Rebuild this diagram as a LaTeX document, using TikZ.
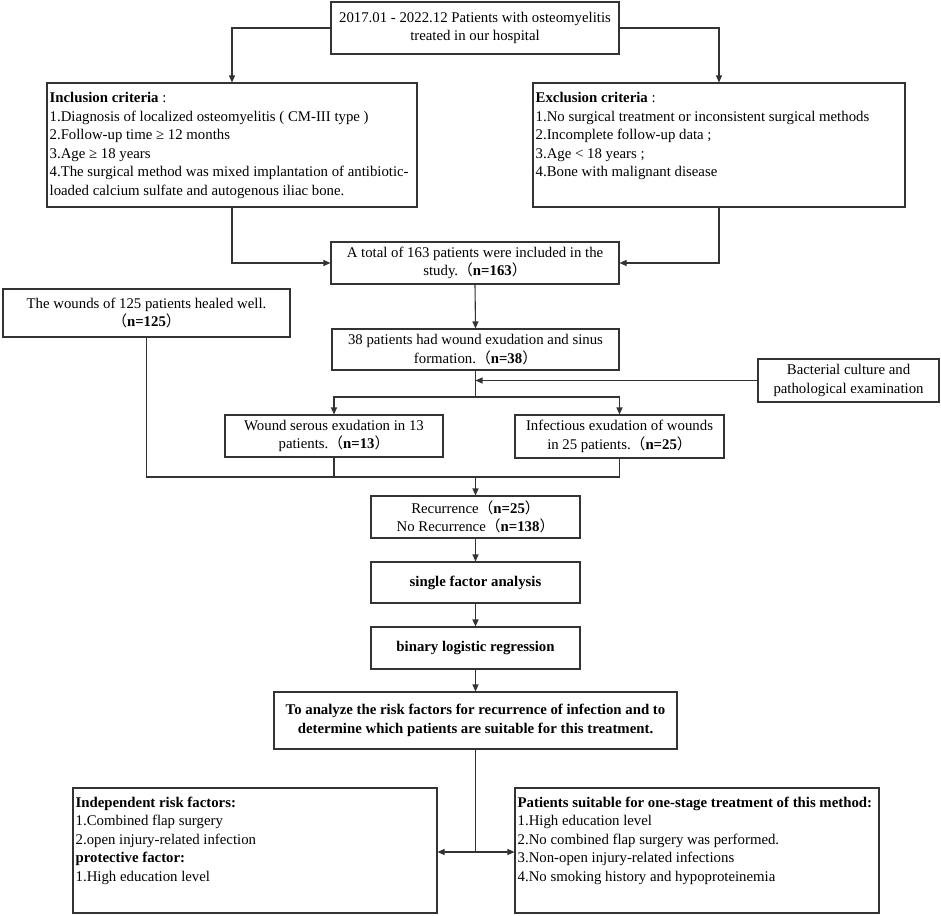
\documentclass[tikz,border=0pt]{standalone}
\usepackage{fontspec}
\setmainfont{Liberation Serif}
\newfontfamily\cjk{Noto Sans CJK SC}
\usetikzlibrary{arrows.meta,calc}
\newcommand\nn[1]{{\cjk （}\textbf{#1}{\cjk ）}}
\tikzset{
  box/.style={draw=black!80, line width=1.1pt, fill=white, inner sep=0pt, align=center, font=\fontsize{14.8}{18.5}\selectfont},
  txt/.style={inner sep=0pt, align=left, anchor=north west, font=\fontsize{14.8}{18.5}\selectfont},
  conn/.style={draw=black!80, line width=1.1pt},
  arr/.style={conn, -{Triangle[length=7pt,width=6pt]}},
  darr/.style={conn, {Triangle[length=7pt,width=6pt]}-{Triangle[length=7pt,width=6pt]}}
}
\begin{document}
\begin{tikzpicture}[x=1pt,y=-1pt]
\useasboundingbox (0,0) rectangle (941,915);
\fill[white] (0,0) rectangle (941,915);
% boxes
\node[box, minimum width=288, minimum height=52] (top) at (475,28) {2017.01 - 2022.12 Patients with osteomyelitis\\treated in our hospital};
\node[box, minimum width=370, minimum height=124] (incl) at (232,145) {};
\node[txt] (incltxt) at ($(incl.north west)+(3,10)$) {\textbf{Inclusion criteria} :\\1.Diagnosis of localized osteomyelitis ( CM-III type )\\2.Follow-up time ≥ 12 months\\3.Age ≥ 18 years\\4.The surgical method was mixed implantation of antibiotic-\\loaded calcium sulfate and autogenous iliac bone.};
\node[box, minimum width=372, minimum height=124] (excl) at (719,145) {};
\node[txt] (excltxt) at ($(excl.north west)+(3,10)$) {\textbf{Exclusion criteria} :\\1.No surgical treatment or inconsistent surgical methods\\2.Incomplete follow-up data ;\\3.Age < 18 years ;\\4.Bone with malignant disease};
\node[box, minimum width=288, minimum height=42] (total) at (475,263) {A total of 163 patients were included in the\\study.\nn{n=163}};
\node[box, minimum width=287, minimum height=41] (ex38) at (475.5,349.5) {38 patients had wound exudation and sinus\\formation.\nn{n=38}};
\node[box, minimum width=287, minimum height=48] (heal) at (146.5,313) {The wounds of 125 patients healed well.\\\nn{n=125}};
\node[box, minimum width=181, minimum height=43] (bact) at (848.5,380.5) {Bacterial culture and\\pathological examination};
\node[box, minimum width=218, minimum height=42] (serous) at (334,436) {Wound serous exudation in 13\\patients.\nn{n=13}};
\node[box, minimum width=209, minimum height=43] (infect) at (619.5,436.5) {Infectious exudation of wounds\\in 25 patients.\nn{n=25}};
\node[box, minimum width=209, minimum height=42] (recur) at (475.5,517) {Recurrence\nn{n=25}\\No Recurrence\nn{n=138}};
\node[box, minimum width=209, minimum height=41] (single) at (475.5,582.5) {\textbf{single factor analysis}};
\node[box, minimum width=209, minimum height=42] (binary) at (475.5,648) {\textbf{binary logistic regression}};
\node[box, minimum width=403, minimum height=57] (analyze) at (475.5,720.5) {\textbf{To analyze the risk factors for recurrence of infection and to}\\\textbf{determine which patients are suitable for this treatment.}};
\node[box, minimum width=364, minimum height=125] (risk) at (255,850.5) {};
\node[txt] (risktxt) at ($(risk.north west)+(3,9)$) {\textbf{Independent risk factors:}\\1.Combined flap surgery\\2.open injury-related infection\\\textbf{protective factor:}\\1.High education level};
\node[box, minimum width=364, minimum height=125] (suit) at (697,850.5) {};
\node[txt] (suittxt) at ($(suit.north west)+(3,9)$) {\textbf{Patients suitable for one-stage treatment of this method:}\\1.High education level\\2.No combined flap surgery was performed.\\3.Non-open injury-related infections\\4.No smoking history and hypoproteinemia};
% coordinates
\coordinate (split) at (475.5,397);
\coordinate (join) at (475.5,477);
\coordinate (mid) at (475.5,852);
% connectors
\draw[arr] (top.west) -| (incl.north);
\draw[arr] (top.east) -| (excl.north);
\draw[arr] (incl.south) |- (total.west);
\draw[arr] (excl.south) |- (total.east);
\draw[arr] (total.south) -- (ex38.north);
\draw[conn] (ex38.south) -- (split);
\draw[arr] (bact.west) -- (bact.west -| split);
\draw[arr] (split) -| (serous.north);
\draw[arr] (split) -| (infect.north);
\draw[conn] (heal.south) |- (join) -| (infect.south);
\draw[conn] (serous.south) -- (serous.south |- join);
\draw[arr] (join) -- (recur.north);
\draw[arr] (recur.south) -- (single.north);
\draw[arr] (single.south) -- (binary.north);
\draw[arr] (binary.south) -- (analyze.north);
\draw[conn] (analyze.south) -- (mid);
\draw[arr] (mid) -- (mid -| risk.east);
\draw[arr] (mid) -- (mid -| suit.west);
\end{tikzpicture}
\end{document}
